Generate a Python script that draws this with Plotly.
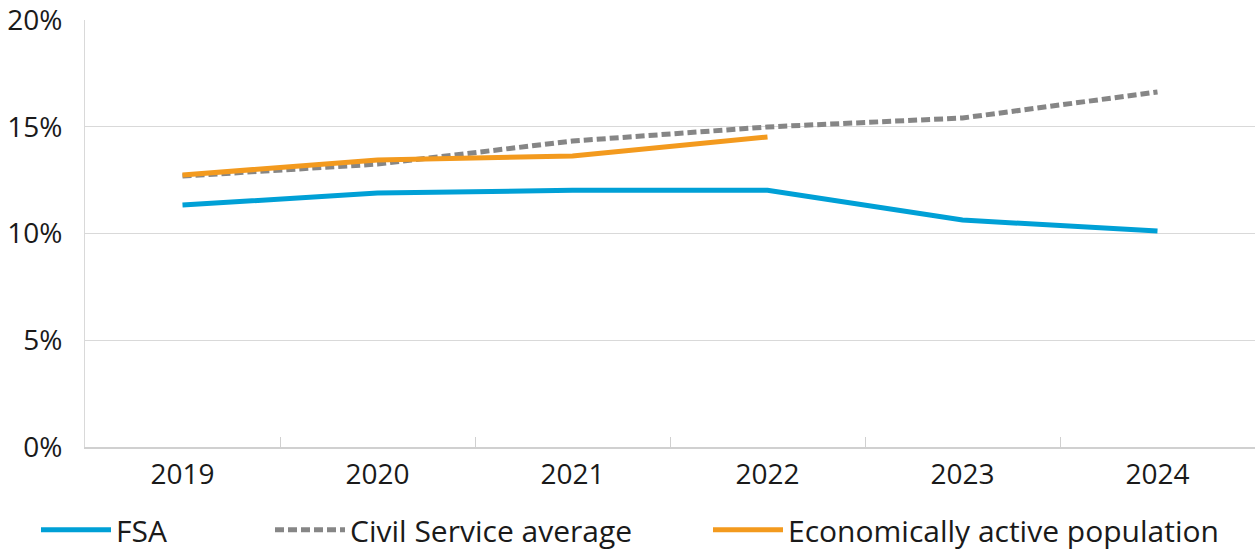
import plotly.graph_objects as go

years = ["2019", "2020", "2021", "2022", "2023", "2024"]
fsa = [11.33, 11.9, 12.02, 12.02, 10.63, 10.12]
civil_service = [12.69, 13.25, 14.33, 14.99, 15.41, 16.63]
econ_active = [12.74, 13.44, 13.63, 14.52, None, None]

y_ticks = [0, 5, 10, 15, 20]
y_labels = [f"{v}%" for v in y_ticks]

FONT = "Open Sans"

W, H = 1260, 551
M_L, M_R, M_T, M_B = 85, 5, 20, 104
plot_w = W - M_L - M_R

fig = go.Figure()

# one legend per series so each entry can sit where the original has it
fig.add_trace(go.Scatter(
    x=years, y=fsa, mode="lines", name="FSA", legend="legend",
    line=dict(color="#00A0D6", width=5)
))
fig.add_trace(go.Scatter(
    x=years, y=civil_service, mode="lines", name="Civil Service average",
    legend="legend2", line=dict(color="#868686", width=5, dash="9px,4px")
))
fig.add_trace(go.Scatter(
    x=years, y=econ_active, mode="lines", name="Economically active population",
    legend="legend3", line=dict(color="#F39A1E", width=5)
))


def legend_at(px_x):
    return dict(
        x=(px_x - M_L) / plot_w, xanchor="left",
        y=-0.194, yanchor="middle", orientation="h",
        font=dict(family=FONT, size=30, color="#1a1a1a"),
        itemwidth=70, bgcolor="rgba(0,0,0,0)",
    )


fig.update_layout(
    width=W, height=H,
    margin=dict(l=M_L, r=M_R, t=M_T, b=M_B, autoexpand=False),
    paper_bgcolor="white", plot_bgcolor="white",
    font=dict(family=FONT, size=28, color="#1a1a1a"),
    showlegend=True,
    legend=legend_at(36),
    legend2=legend_at(270),
    legend3=legend_at(708),
    xaxis=dict(
        type="category", range=[-0.5, 5.5], showgrid=False,
        showline=True, linecolor="#d0d0d0", linewidth=2,
        ticks="inside", ticklen=10, tickcolor="#d0d0d0", tickwidth=1,
        tickson="boundaries", ticklabelstandoff=1,
    ),
    yaxis=dict(
        range=[0, 20], tickvals=y_ticks, ticktext=y_labels,
        showgrid=True, gridcolor="#d9d9d9", gridwidth=1,
        showline=True, linecolor="#d9d9d9", linewidth=1,
        zeroline=False, ticklabelstandoff=16, ticklabeloverflow="allow",
    ),
)

# drop the default 8px page margin so the figure fills the window exactly
fig.write_html(
    "out.html",
    config={"displayModeBar": False},
    post_script="document.body.style.margin='0';",
)
